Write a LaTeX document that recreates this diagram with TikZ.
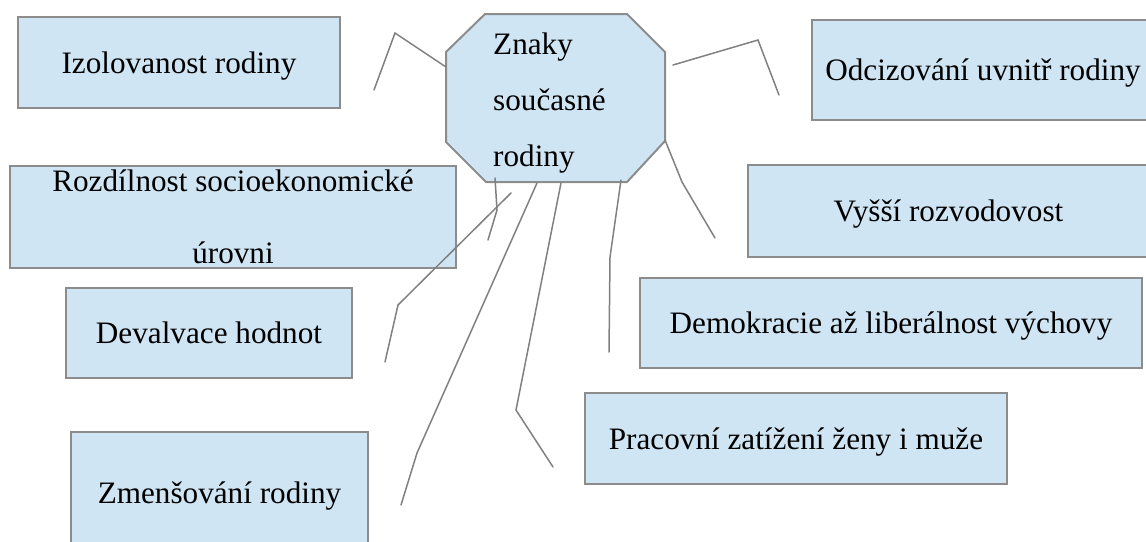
\documentclass[tikz,border=0pt]{standalone}
\usepackage{fontspec}
\setmainfont{Liberation Serif}
\newfontfamily\signfont{Liberation Serif}
\definecolor{signfill}{HTML}{CFE5F3}
\definecolor{signline}{HTML}{8C8C8C}
\definecolor{spokeline}{HTML}{808080}
\tikzset{
  sign/.style={draw=signline, line width=2pt, fill=signfill, inner sep=0pt,
    font=\signfont\fontsize{31.2}{37}\selectfont},
  oneline/.style={text height=21pt, text depth=0pt},
  spoke/.style={draw=spokeline, line width=1.5pt, line cap=round},
}
\begin{document}
\begin{tikzpicture}[x=1pt,y=-1pt]
\clip (0,0) rectangle (1146,541);
% centre
\draw[sign] (485,14) -- (627,14) -- (665,52) -- (665,141) -- (627,182) -- (486,182) -- (446,142) -- (446,52) -- cycle;
\node[font=\signfont\fontsize{31.2}{56}\selectfont, align=left, anchor=north west, inner sep=0pt] (hub) at (493,33) {Znaky\\současné\\rodiny};
% signs
\node[sign, oneline, minimum width=322pt, minimum height=91pt] (izol) at (179,62.5) {Izolovanost rodiny};
\node[sign, oneline, minimum width=342pt, minimum height=100pt] (odciz) at (983,70) {Odcizování uvnitř rodiny};
\node[sign, align=center, font=\signfont\fontsize{31.2}{72}\selectfont, minimum width=446pt, minimum height=102pt] (rozdil) at (233,217) {Rozdílnost socioekonomické\\úrovni};
\node[sign, oneline, minimum width=401pt, minimum height=92pt] (vyssi) at (948.5,211) {Vyšší rozvodovost};
\node[sign, oneline, minimum width=286pt, minimum height=90pt] (deval) at (209,333) {Devalvace hodnot};
\node[sign, oneline, minimum width=502pt, minimum height=90pt] (demo) at (891,323) {Demokracie až liberálnost výchovy};
\node[sign, oneline, minimum width=422pt, minimum height=91pt] (prac) at (796,438.5) {Pracovní zatížení ženy i muže};
\node[sign, oneline, minimum width=297pt, minimum height=122pt] (zmen) at (219.5,493) {Zmenšování rodiny};
% spokes
\foreach \n/\a/\b/\c in {1/{446,67}/{395,33}/{374,90}, 2/{673,65}/{758,40}/{779,95},
  3/{665,140}/{682,182}/{715,238}, 4/{495,178}/{497,210}/{488,240},
  5/{511,193}/{398,305}/{385,362}, 6/{537,183}/{417,453}/{401,505},
  7/{561,183}/{516,410}/{553,467}, 8/{621,180}/{610,257}/{609,352}} {
  \coordinate (s\n) at (\a);
  \coordinate (k\n) at (\b);
  \coordinate (e\n) at (\c);
  \draw[spoke] (s\n) -- (k\n) -- (e\n);
}
\end{tikzpicture}
\end{document}
